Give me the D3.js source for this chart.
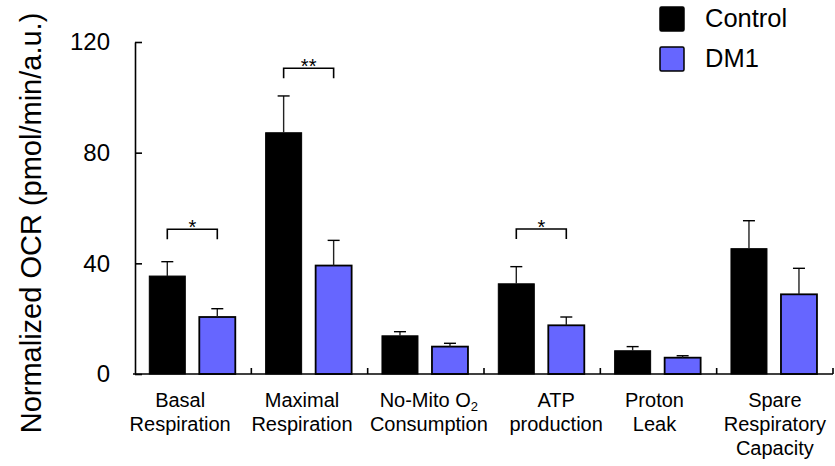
<!DOCTYPE html>
<html>
<head>
<meta charset="utf-8">
<script src="https://cdn.jsdelivr.net/npm/d3@7"></script>
<style>
  html, body { margin: 0; padding: 0; background: #fff; }
  svg { display: block; font-family: "Liberation Sans", Arial, Helvetica, sans-serif; }
</style>
</head>
<body>
<svg id="chart" width="835" height="466"></svg>
<script>
// ---------------- DATA ----------------
const categories = [
  ["Basal", "Respiration"],
  ["Maximal", "Respiration"],
  ["No-Mito O2", "Consumption"],
  ["ATP", "production"],
  ["Proton", "Leak"],
  ["Spare", "Respiratory", "Capacity"]
];
const seriesNames = ["Control", "DM1"];
const controlValues = [35.4, 87.2, 13.8, 32.6, 8.4, 45.3];
const controlErrors = [5.2, 13.3, 1.5, 6.2, 1.5, 10.1];
const dm1Values = [20.6, 39.2, 9.9, 17.6, 5.9, 28.8];
const dm1Errors = [3.0, 9.1, 1.2, 3.0, 0.7, 9.4];
const yTicks = [0, 40, 80, 120];
const yLabel = "Normalized OCR (pmol/min/a.u.)";
// significance brackets: category index, bracket height (data units), label
const sigCategories = [0, 1, 3];
const sigHeights = [52.3, 110.5, 52.4];
const sigLabels = ["*", "**", "*"];

// ---------------- LAYOUT ----------------
(function () {
const colors = { Control: "#000000", DM1: "#6666FF" };
const svg = d3.select("#chart");
const mLeft = 135, mRight = 833, mTop = 42, mBottom = 374;

const x0 = d3.scaleBand().domain(d3.range(categories.length)).range([mLeft, mRight]).padding(0);
const bw = x0.bandwidth();
const x1 = d3.scaleBand().domain(seriesNames).range([14.3, 100.3]).paddingInner(0.28).paddingOuter(0);
const y = d3.scaleLinear().domain([0, 120]).range([mBottom, mTop]);

const rows = [];
categories.forEach((c, i) => {
  rows.push({ i, s: "Control", v: controlValues[i], e: controlErrors[i] });
  rows.push({ i, s: "DM1", v: dm1Values[i], e: dm1Errors[i] });
});

// Bars
svg.append("g").selectAll("rect").data(rows).join("rect")
  .attr("x", d => x0(d.i) + x1(d.s))
  .attr("y", d => y(d.v))
  .attr("width", x1.bandwidth())
  .attr("height", d => y(0) - y(d.v))
  .attr("fill", d => colors[d.s])
  .attr("stroke", "#000")
  .attr("stroke-width", d => d.s === "DM1" ? 1.8 : 1);

// Error bars (upper only)
const eg = svg.append("g").attr("stroke", "#222").attr("stroke-width", 1.4);
rows.forEach(d => {
  const cx = x0(d.i) + x1(d.s) + x1.bandwidth() / 2;
  eg.append("line").attr("x1", cx).attr("x2", cx).attr("y1", y(d.v)).attr("y2", y(d.v + d.e));
  eg.append("line").attr("x1", cx - 6).attr("x2", cx + 6).attr("y1", y(d.v + d.e)).attr("y2", y(d.v + d.e)).attr("stroke", "#000");
});

// Y axis
const yAxis = d3.axisLeft(y).tickValues(yTicks).tickSize(-7).tickPadding(25).tickSizeOuter(0);
const ya = svg.append("g").attr("transform", `translate(${mLeft},0)`).call(yAxis);
ya.select(".domain").attr("stroke", "#000").attr("stroke-width", 1.6);
ya.selectAll(".tick line").attr("stroke", "#000").attr("stroke-width", 1.6);
ya.selectAll(".tick text").attr("font-size", 24).attr("fill", "#000")
  .attr("font-family", "'Liberation Sans', Arial, sans-serif");

// X axis line and separator ticks
const xg = svg.append("g").attr("stroke", "#000").attr("stroke-width", 1.6);
xg.append("line").attr("x1", mLeft - 2).attr("x2", mRight).attr("y1", mBottom).attr("y2", mBottom);
d3.range(1, categories.length + 1).forEach(k => {
  const xx = k < categories.length ? x0(k) : mRight;
  xg.append("line").attr("x1", xx).attr("x2", xx).attr("y1", mBottom).attr("y2", mBottom - 6);
});

// Category labels
const labelNudge = [-13, -7.5, 3, 14, -4, 0];
const lg = svg.append("g").attr("font-size", 20).attr("fill", "#000").attr("text-anchor", "middle");
categories.forEach((lines, i) => {
  const cx = x0(i) + bw / 2 + labelNudge[i];
  lines.forEach((ln, j) => {
    const t = lg.append("text").attr("x", cx).attr("y", 407 + j * 24);
    if (ln.endsWith("O2")) {
      t.text(ln.slice(0, -1));
      t.append("tspan").attr("font-size", 13).attr("dy", 4).text("2");
    } else {
      t.text(ln);
    }
  });
});

// Y axis title
svg.append("text")
  .attr("transform", `translate(41,223) rotate(-90)`)
  .attr("text-anchor", "middle")
  .attr("font-size", 29)
  .attr("fill", "#000")
  .text(yLabel);

// Significance brackets
const sg = svg.append("g");
sigCategories.forEach((ci, k) => {
  const xa = x0(ci) + x1("Control") + x1.bandwidth() / 2;
  const xb = x0(ci) + x1("DM1") + x1.bandwidth() / 2;
  const yy = y(sigHeights[k]);
  sg.append("path")
    .attr("d", `M${xa},${yy + 10}V${yy}H${xb}V${yy + 10}`)
    .attr("fill", "none").attr("stroke", "#000").attr("stroke-width", 1.6);
  sg.append("text")
    .attr("x", (xa + xb) / 2).attr("y", yy + 5)
    .attr("text-anchor", "middle").attr("font-size", 20).attr("fill", "#000")
    .text(sigLabels[k]);
});

// Legend
const leg = svg.append("g");
seriesNames.forEach((s, k) => {
  leg.append("rect")
    .attr("x", 660).attr("y", 7 + k * 40).attr("width", 24).attr("height", 24)
    .attr("rx", 1.5)
    .attr("fill", colors[s]).attr("stroke", "#000").attr("stroke-width", 1.5);
  leg.append("text")
    .attr("x", 705).attr("y", 27 + k * 40)
    .attr("font-size", 25.5).attr("fill", "#000")
    .text(s);
});
})();
</script>
</body>
</html>
